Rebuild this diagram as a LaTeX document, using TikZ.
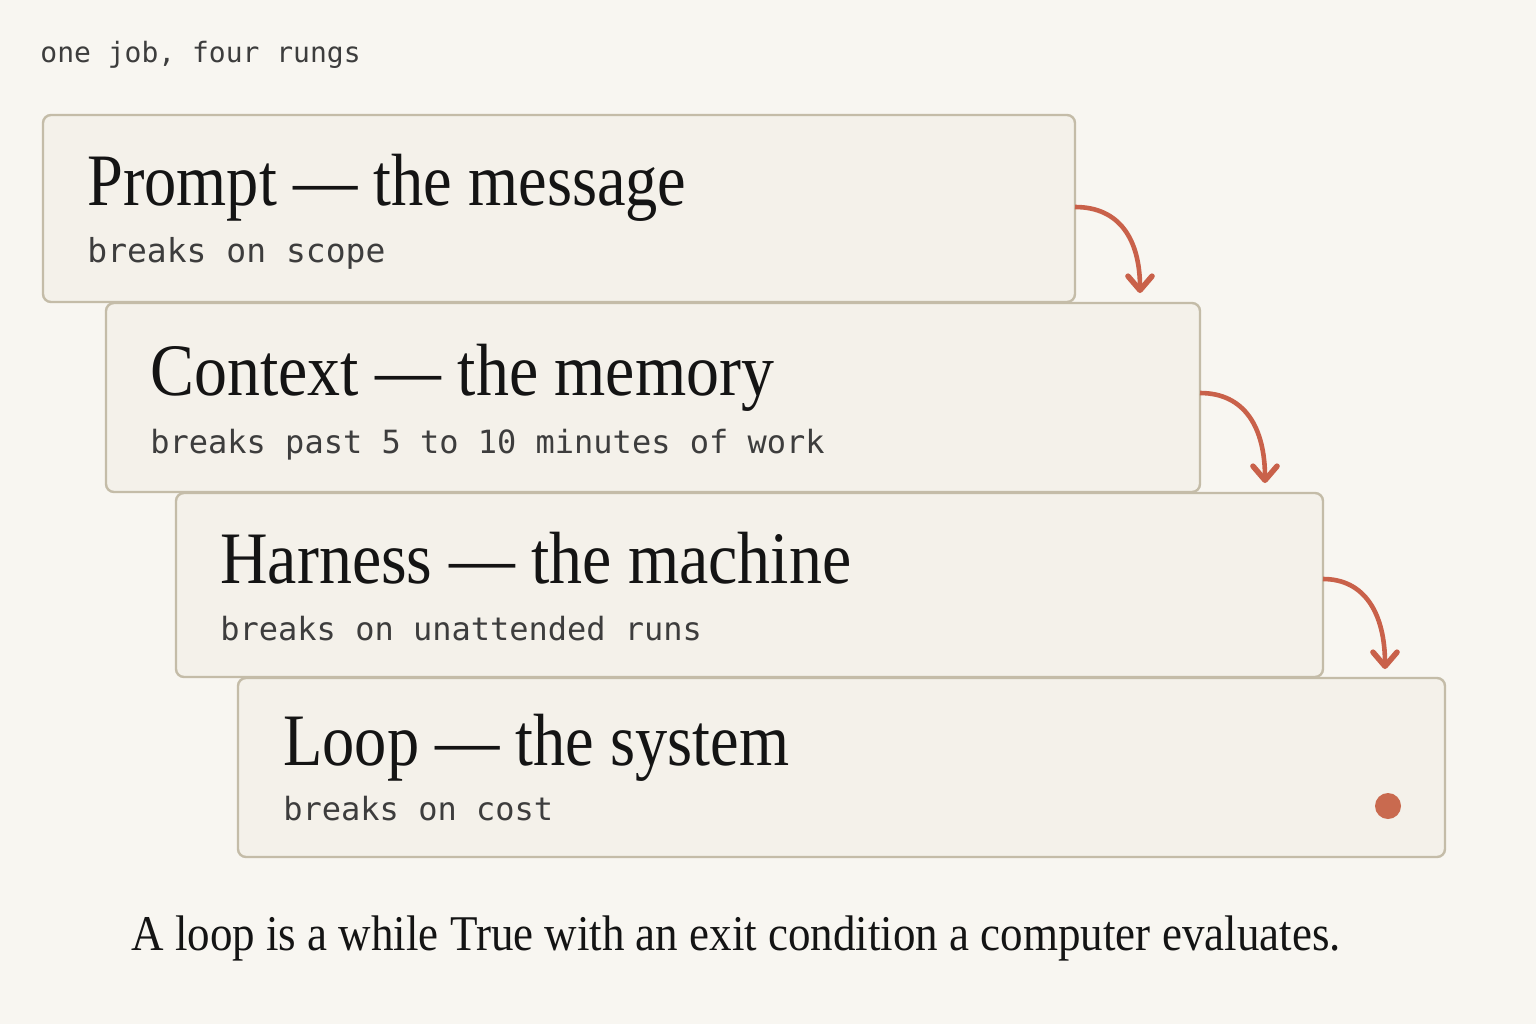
\documentclass[tikz,border=0pt]{standalone}
\usepackage{fontspec}
\setmainfont{Liberation Serif}
\setmonofont{DejaVu Sans Mono}
\usetikzlibrary{arrows.meta}
\definecolor{bgc}{HTML}{F8F6F1}
\definecolor{boxfill}{HTML}{F4F1EA}
\definecolor{boxline}{HTML}{C4BCA8}
\definecolor{accent}{HTML}{C9614A}
\definecolor{dotc}{HTML}{C96A4F}
\definecolor{ink}{HTML}{141414}
\definecolor{monoink}{HTML}{3D3D3D}
\newcommand{\narrow}[2]{\scalebox{#1}[1]{#2}}
\tikzset{
  rung/.style={draw=boxline, line width=1.2pt, fill=boxfill, rounded corners=4pt},
  title/.style={anchor=base west, inner sep=0pt, text=ink, font=\fontsize{37}{40}\selectfont},
  sub/.style={anchor=base west, inner sep=0pt, text=monoink, font=\ttfamily\fontsize{16}{18}\selectfont},
  flow/.style={draw=accent, line width=2.3pt, -{Straight Barb[length=7pt,width=12pt,line width=2.8pt,round]}},
}
\begin{document}
\begin{tikzpicture}[x=0.5pt,y=-0.5pt]
\fill[bgc] (0,0) rectangle (1536,1024);
\useasboundingbox (0,0) rectangle (1536,1024);
\node[anchor=base west, inner sep=0pt, text=monoink, font=\ttfamily\fontsize{14}{16}\selectfont] (head) at (40,62) {one job, four rungs};
% rungs
\draw[rung] (43,115) rectangle (1075,302);
\coordinate (r1) at (1075,207);
\node[title] (t1) at (87,205) {\narrow{0.87}{Prompt — the message}};
\node[sub, font=\ttfamily\fontsize{16.5}{18}\selectfont] (s1) at (87,262) {breaks on scope};
\draw[rung] (106,303) rectangle (1200,492);
\coordinate (r2) at (1200,393);
\coordinate (e1) at (1140,293);
\node[title] (t2) at (150,395) {\narrow{0.89}{Context — the memory}};
\node[sub] (s2) at (150,453) {breaks past 5 to 10 minutes of work};
\draw[rung] (176,493) rectangle (1323,677);
\coordinate (r3) at (1323,579);
\coordinate (e2) at (1265,483);
\node[title] (t3) at (220,583) {\narrow{0.89}{Harness — the machine}};
\node[sub] (s3) at (220,640) {breaks on unattended runs};
\draw[rung] (238,678) rectangle (1445,857);
\coordinate (e3) at (1385,669);
\node[title] (t4) at (283,765) {\narrow{0.87}{Loop — the system}};
\node[sub] (s4) at (283,820) {breaks on cost};
\fill[dotc] (1388,806) circle (13);
% arrows
\draw[flow] (r1) .. controls (1120,207) and (1140,240) .. (e1);
\draw[flow] (r2) .. controls (1245,393) and (1265,428) .. (e2);
\draw[flow] (r3) .. controls (1365,579) and (1385,614) .. (e3);
\node[anchor=base west, inner sep=0pt, text=ink, font=\fontsize{25}{28}\selectfont] (cap) at (131,950) {\narrow{0.9}{A loop is a while True with an exit condition a computer evaluates.}};
\end{tikzpicture}
\end{document}
